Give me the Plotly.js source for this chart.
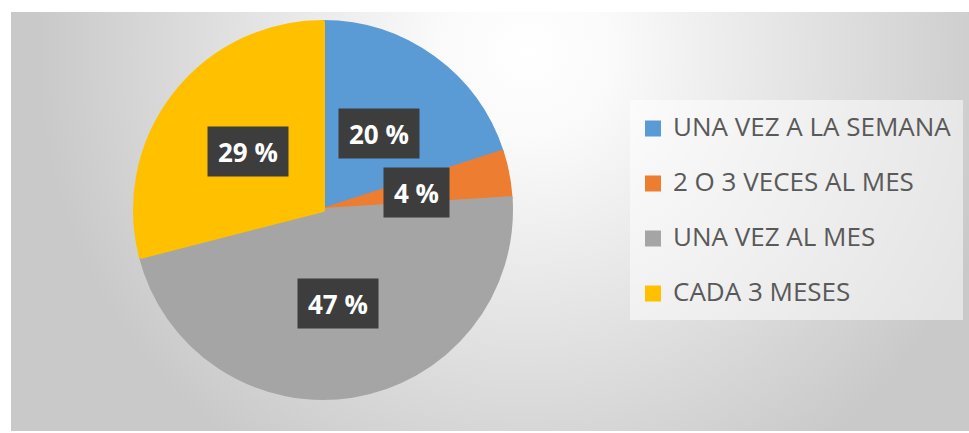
<!DOCTYPE html>
<html>
<head>
<meta charset="utf-8">
<script src="https://cdn.plot.ly/plotly-3.0.1.min.js"></script>
<style>
  html, body { margin: 0; padding: 0; background: #ffffff; }
  #wrap { position: relative; width: 969px; height: 433px; }
  #bg { position: absolute; left: 11px; top: 12px; width: 958px; height: 419px;
        background: radial-gradient(circle 490px at 515px 40px, #ffffff 0%, #fafafa 18%, #c9c9c9 100%); }
  #chart { position: absolute; left: 0; top: 0; width: 969px; height: 433px; }
</style>
</head>
<body>
<div id="wrap"><div id="bg"></div><div id="chart"></div></div>
<script>
// ---- data ----
const categories = ['UNA VEZ A LA SEMANA', '2 O 3 VECES AL MES', 'UNA VEZ AL MES', 'CADA 3 MESES'];
const values = [20, 4, 47, 29];
const sliceColors = ['#5B9BD5', '#ED7D31', '#A5A5A5', '#FFC000'];

// ---- layout constants ----
const W = 969, H = 433;
const CX = 323, CY = 210, R = 188;

const legendLabels = categories.map(c => '<span style="font-size:26px">' + c + '</span><br> ');

const trace = {
  type: 'pie',
  labels: legendLabels,
  values: values,
  sort: false,
  direction: 'clockwise',
  rotation: 0,
  textinfo: 'none',
  hoverinfo: 'skip',
  marker: { colors: sliceColors, line: { color: sliceColors, width: 4 } },
  domain: { x: [(CX - R) / W, (CX + R) / W], y: [(H - CY - R) / H, (H - CY + R) / H] }
};

// data labels at the middle of each slice, half the radius out
const total = values.reduce((a, b) => a + b, 0);
const annotations = [];
let cum = 0;
values.forEach((v, i) => {
  const theta = 2 * Math.PI * (cum + v / 2) / total;
  cum += v;
  const px = CX + 0.5 * (R + 2) * Math.sin(theta);
  const py = CY - 0.5 * (R + 2) * Math.cos(theta);
  annotations.push({
    x: px / W, y: 1 - py / H, xref: 'paper', yref: 'paper',
    xanchor: 'center', yanchor: 'middle', showarrow: false,
    text: Math.round(100 * v / total) + ' %', height: 29, borderpad: 10,
    bgcolor: '#3d3d3d',
    font: { family: 'Open Sans', size: 26, color: '#ffffff', weight: 'bold' }
  });
});

const layout = {
  width: W, height: H,
  margin: { l: 0, r: 0, t: 0, b: 0 },
  paper_bgcolor: 'rgba(0,0,0,0)',
  plot_bgcolor: 'rgba(0,0,0,0)',
  showlegend: true,
  legend: {
    x: 633 / W, xanchor: 'left',
    y: 1 - 109 / H, yanchor: 'top',
    bgcolor: 'rgba(0,0,0,0)',
    valign: 'top',
    font: { family: 'Open Sans', size: 20, color: '#595959' }
  },
  shapes: [{
    type: 'rect', xref: 'paper', yref: 'paper', layer: 'below',
    x0: 630 / W, x1: 963 / W, y0: 1 - 320 / H, y1: 1 - 100 / H,
    fillcolor: 'rgba(255,255,255,0.5)', line: { width: 0 }
  }],
  annotations: annotations
};

Plotly.newPlot('chart', [trace], layout, { displayModeBar: false, staticPlot: true });
</script>
</body>
</html>
